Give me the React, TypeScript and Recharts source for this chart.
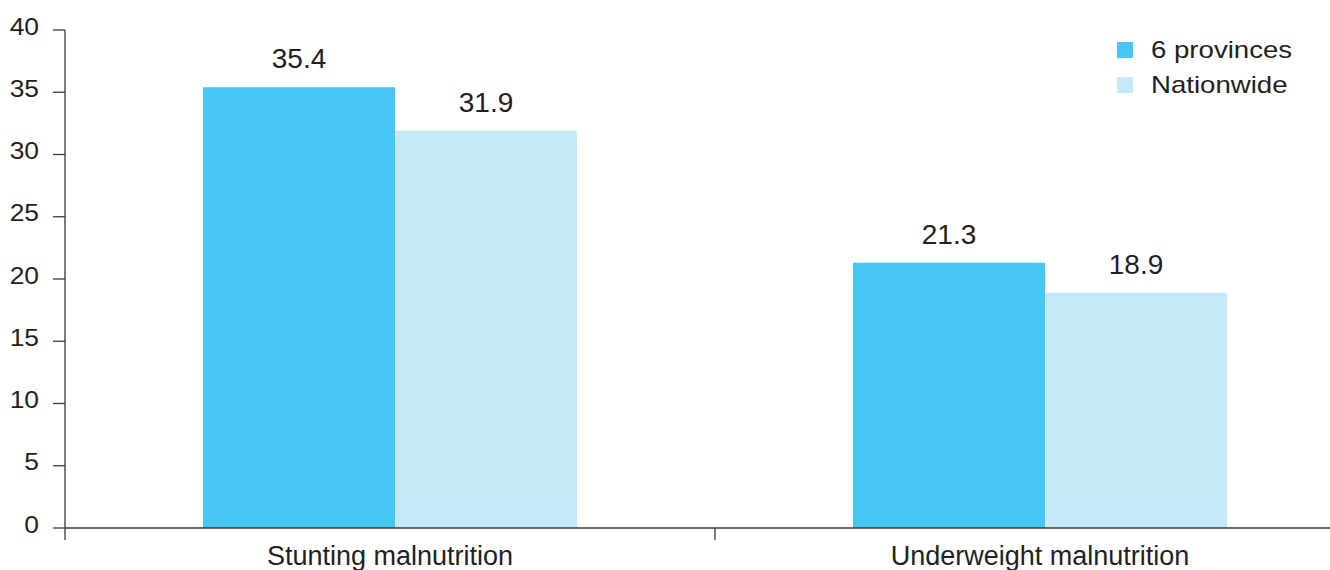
import React from 'react';
import { BarChart, Bar, XAxis, YAxis, LabelList } from 'recharts';

// prevalence of malnutrition (%), 6 provinces vs. nationwide
const categories = ['Stunting malnutrition', 'Underweight malnutrition'];
const sixProvinces = [35.4, 21.3];
const nationwide = [31.9, 18.9];
const yTicks = [0, 5, 10, 15, 20, 25, 30, 35, 40];

const series = [
  { key: 'six', name: '6 provinces', color: '#45c6f4', barSize: 192 },
  { key: 'nation', name: 'Nationwide', color: '#c6e9f8', barSize: 182 },
];

const data = categories.map((name, i) => ({
  name,
  six: sixProvinces[i],
  nation: nationwide[i],
}));

const FONT = '"Liberation Sans", Arial, Helvetica, sans-serif';
const INK = '#231f20';
const AXIS = '#3a3a3a';

const YTick = (props: any) => {
  const { x, y, payload } = props;
  return (
    <text
      transform={`translate(${x},${y - 4}) scale(1.1,1)`}
      textAnchor="end"
      dy="0.355em"
      fontSize={24}
      fontFamily={FONT}
      fill={INK}
    >
      {payload.value}
    </text>
  );
};

const XTick = (props: any) => {
  const { x, y, payload } = props;
  const half = payload.offset ?? 325;
  return (
    <g>
      <line x1={x - half} x2={x - half} y1={y} y2={y + 12} stroke={AXIS} strokeWidth={1.3} />
      <text x={x} y={y + 37} textAnchor="middle" fontSize={27} fontFamily={FONT} fill={INK}>
        {payload.value}
      </text>
    </g>
  );
};

const LegendBox = () => (
  <div style={{ position: 'absolute', left: 1117, top: 32, fontFamily: FONT, color: INK }}>
    {series.map(s => (
      <div key={s.key} style={{ display: 'flex', alignItems: 'center', height: 35 }}>
        <span style={{ width: 16, height: 16, background: s.color, display: 'inline-block' }} />
        <span
          style={{
            marginLeft: 18,
            fontSize: 24,
            lineHeight: '35px',
            display: 'inline-block',
            transform: 'scaleX(1.15)',
            transformOrigin: 'left center',
          }}
        >
          {s.name}
        </span>
      </div>
    ))}
  </div>
);

export default function App() {
  return (
    <div style={{ position: 'absolute', left: 0, top: 0, width: 1330, height: 570, overflow: 'hidden', background: '#fff' }}>
      <BarChart
        width={1380}
        height={570}
        data={data}
        margin={{ top: 30, right: 15, left: 0, bottom: 0 }}
        barGap={0}
      >
        <YAxis
          width={65}
          domain={[0, 40]}
          ticks={yTicks}
          interval={0}
          tickSize={12}
          tickMargin={14}
          axisLine={{ stroke: AXIS, strokeWidth: 1.3 }}
          tickLine={{ stroke: AXIS, strokeWidth: 1.3 }}
          tick={<YTick />}
        />
        <XAxis
          dataKey="name"
          height={42}
          tickSize={0}
          tickMargin={0}
          tickLine={false}
          axisLine={{ stroke: AXIS, strokeWidth: 1.3 }}
          tick={<XTick />}
          interval={0}
        />
        {series.map(s => (
          <Bar key={s.key} dataKey={s.key} name={s.name} fill={s.color} barSize={s.barSize} isAnimationActive={false}>
            <LabelList dataKey={s.key} position="top" offset={19} fontSize={28} fontFamily={FONT} fill={INK} />
          </Bar>
        ))}
      </BarChart>
      <LegendBox />
    </div>
  );
}
